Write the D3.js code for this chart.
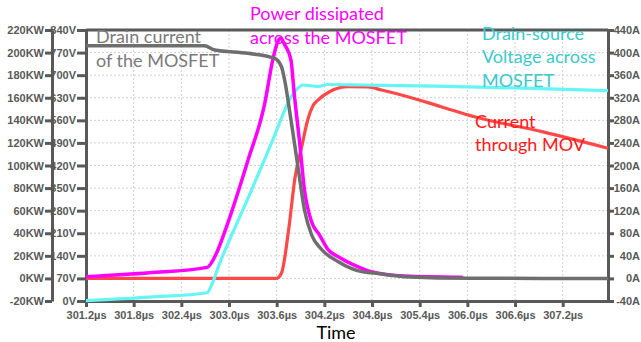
<!DOCTYPE html>
<html>
<head>
<meta charset="utf-8">
<script src="https://cdn.jsdelivr.net/npm/d3@7"></script>
<style>
  html, body { margin: 0; padding: 0; background: #fff; }
  svg { display: block; }
</style>
</head>
<body>
<svg id="chart" width="641" height="342"></svg>
<script>
// ---------- data ----------
const timeTicks = [301.2, 301.8, 302.4, 303.0, 303.6, 304.2, 304.8, 305.4, 306.0, 306.6, 307.2];
const timeTickLabels = ["301.2µs","301.8µs","302.4µs","303.0µs","303.6µs","304.2µs","304.8µs","305.4µs","306.0µs","306.6µs","307.2µs"];
const kwTicks = [-20, 0, 20, 40, 60, 80, 100, 120, 140, 160, 180, 200, 220];
const kwTickLabels = ["-20KW","0KW","20KW","40KW","60KW","80KW","100KW","120KW","140KW","160KW","180KW","200KW","220KW"];
const vTicks = [0, 70, 140, 210, 280, 350, 420, 490, 560, 630, 700, 770, 840];
const vTickLabels = ["0V","70V","140V","210V","280V","350V","420V","490V","560V","630V","700V","770V","840V"];
const aTicks = [-40, 0, 40, 80, 120, 160, 200, 240, 280, 320, 360, 400, 440];
const aTickLabels = ["-40A","0A","40A","80A","120A","160A","200A","240A","280A","320A","360A","400A","440A"];

// Power dissipated across the MOSFET (KW)
const powerTime = [301.2, 302.0, 302.725, 302.84, 302.94, 303.24, 303.45, 303.55, 303.61, 303.65, 303.70, 303.78, 303.82, 303.89, 303.95, 304.04, 304.14, 304.25, 304.38, 304.67, 304.79, 305.21, 305.93];
const powerKW   = [1.5, 5.0, 9.8, 22, 40.2, 104.9, 155.1, 193.4, 209, 212.6, 207, 193.4, 164, 119.7, 78.3, 50, 38.4, 25.2, 19, 9, 6, 2.1, 1.0];

// Drain-source voltage across MOSFET (V)
const vdsTime = [301.2, 302.0, 302.725, 302.79, 302.86, 303.24, 303.45, 303.57, 303.78, 303.86, 303.93, 304.12, 304.25, 304.67, 305.6, 306.7, 307.77];
const vdsV    = [1, 12, 25.7, 55, 102, 319, 440, 511, 632, 658, 669.5, 665, 671, 669.5, 666, 660, 652];

// Drain current of the MOSFET (A)
const idTime = [301.2, 302.69, 302.82, 303.24, 303.57, 303.66, 303.70, 303.78, 303.87, 303.95, 304.04, 304.16, 304.37, 304.67, 304.79, 305.21, 306.05, 307.77];
const idA    = [412, 412, 404.6, 398.7, 390, 375, 351.4, 280.6, 195.6, 121.2, 76.9, 52.1, 30, 12, 10.1, 3.1, 0.2, 0];

// Current through MOV (A)
const movTime = [301.2, 303.595, 303.66, 303.75, 303.83, 303.92, 303.99, 304.055, 304.12, 304.26, 304.5, 304.75, 304.92, 305.25, 305.67, 306.09, 306.94, 307.77];
const movA    = [0, 0, 9.1, 85.8, 177.9, 236.3, 280.6, 305.4, 316, 330.2, 339.6, 339, 333.7, 321.9, 304.2, 286.4, 259.9, 230.5];

// ---------- layout ----------
const L = 86, R = 608, T = 30, B = 301;
const svg = d3.select("#chart");
const axisColor = "#595959";
const tickFont = "'Liberation Sans', Arial, sans-serif";
const annFont = "Lato, 'Open Sans', sans-serif";

const x = d3.scaleLinear().domain([301.2, 307.77]).range([L, R]);
const yKW = d3.scaleLinear().domain([-20, 220]).range([B, T]);
const yV = d3.scaleLinear().domain([0, 840]).range([B, T]);
const yA = d3.scaleLinear().domain([-40, 440]).range([B, T]);

// grid
const grid = svg.append("g").attr("stroke", "#cfcfcf").attr("stroke-width", 1).attr("stroke-dasharray", "2,2");
grid.selectAll("line.v").data(timeTicks.slice(1)).enter().append("line")
  .attr("x1", d => x(d)).attr("x2", d => x(d)).attr("y1", T).attr("y2", B);
grid.selectAll("line.h").data(vTicks.slice(1)).enter().append("line")
  .attr("x1", L).attr("x2", R).attr("y1", d => yV(d)).attr("y2", d => yV(d));

// axes
function styleAxis(g) {
  g.selectAll("path.domain").attr("stroke", axisColor).attr("stroke-width", 3);
  g.selectAll(".tick line").attr("stroke", axisColor).attr("stroke-width", 3);
  g.selectAll(".tick text").attr("fill", axisColor).attr("font-family", tickFont)
    .attr("font-size", 11).attr("font-weight", "bold");
}

const xAxis = d3.axisBottom(x).tickValues(timeTicks).tickFormat((d, i) => timeTickLabels[i])
  .tickSize(6).tickSizeOuter(0).tickPadding(3);
svg.append("g").attr("transform", `translate(0,${B})`).call(xAxis).call(styleAxis)
  .selectAll(".tick text").attr("dy", "0.8em");

const vAxis = d3.axisLeft(yV).tickValues(vTicks).tickFormat((d, i) => vTickLabels[i])
  .tickSize(9).tickSizeOuter(0).tickPadding(1);
svg.append("g").attr("transform", `translate(${L},0)`).call(vAxis).call(styleAxis);

const kwAxis = d3.axisLeft(yKW).tickValues(kwTicks).tickFormat((d, i) => kwTickLabels[i])
  .tickSize(7).tickSizeOuter(0).tickPadding(1);
svg.append("g").attr("transform", `translate(52,0)`).call(kwAxis).call(styleAxis);

const aAxis = d3.axisRight(yA).tickValues(aTicks).tickFormat((d, i) => aTickLabels[i])
  .tickSize(6).tickSizeOuter(0).tickPadding(0);
const ag = svg.append("g").attr("transform", `translate(${R},0)`).call(aAxis).call(styleAxis);
ag.selectAll(".tick text").attr("text-anchor", "end").attr("x", 640 - R);

// top border
svg.append("line").attr("x1", L).attr("x2", R).attr("y1", T).attr("y2", T)
  .attr("stroke", axisColor).attr("stroke-width", 3);

// ---------- series ----------
svg.append("clipPath").attr("id", "clip").append("rect")
  .attr("x", L).attr("y", T - 2).attr("width", R - L).attr("height", B - T + 4);
const plot = svg.append("g").attr("clip-path", "url(#clip)");

function drawSeries(ts, vs, yScale, color, width) {
  const pts = ts.map((t, i) => [t, vs[i]]);
  const line = d3.line().x(d => x(d[0])).y(d => yScale(d[1])).curve(d3.curveMonotoneX);
  plot.append("path").datum(pts).attr("d", line).attr("fill", "none")
    .attr("stroke", color).attr("stroke-width", width).attr("stroke-linejoin", "round").attr("stroke-linecap", "round");
}
drawSeries(movTime, movA, yA, "#FF4848", 3.2);
drawSeries(vdsTime, vdsV, yV, "#66F4F4", 3.2);
drawSeries(powerTime, powerKW, yKW, "#FF00FF", 3.5);
drawSeries(idTime, idA, yA, "#6E6E6E", 3.5);

// ---------- annotations ----------
function label(lines, x0, y0, color, size, lh) {
  const t = svg.append("text").attr("x", x0).attr("y", y0).attr("fill", color)
    .attr("font-family", annFont).attr("font-size", size);
  lines.forEach((s, i) => t.append("tspan").attr("x", x0).attr("dy", i === 0 ? 0 : lh).text(s));
}
label(["Drain current", "of the MOSFET"], 96, 43, "#7a7a7a", 18, 23.5);
label(["Power dissipated", "across the MOSFET"], 250, 20, "#FF00FF", 18, 23.5);
label(["Drain-source", "Voltage across", "MOSFET"], 482, 40, "#3CCACA", 18, 23.3);
label(["Current", "through MOV"], 475, 128, "#FF1a1a", 18, 22.5);

svg.append("text").attr("x", 336).attr("y", 339).attr("text-anchor", "middle")
  .attr("font-family", annFont).attr("font-size", 18).attr("fill", "#000").text("Time");
</script>
</body>
</html>
